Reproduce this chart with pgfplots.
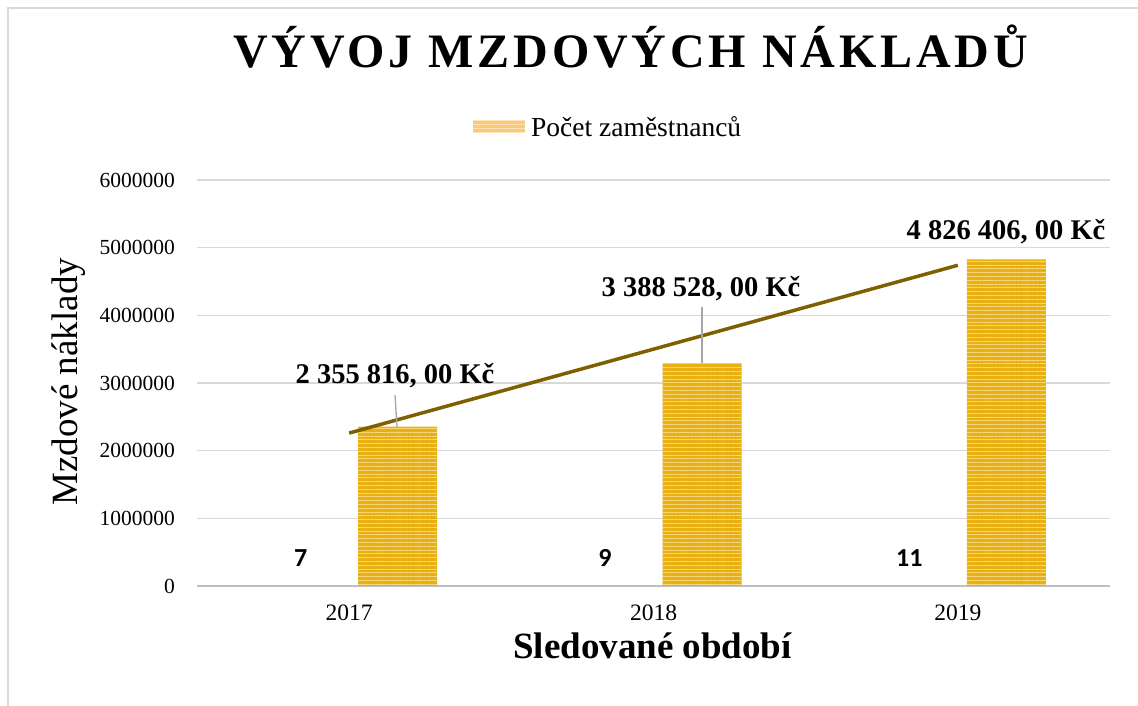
\documentclass[border=0pt]{standalone}
\usepackage{fontspec}
\setmainfont{Liberation Serif}
\newfontfamily\calibri{Carlito}
\usepackage{pgfplots}
\pgfplotsset{compat=1.18}
\usetikzlibrary{patterns.meta}

\definecolor{bargold}{HTML}{E9B014}
\definecolor{barlight}{HTML}{F7D67C}
\definecolor{trend}{HTML}{7F6000}
\definecolor{gridgray}{HTML}{D9D9D9}
\definecolor{axisgray}{HTML}{BFBFBF}
\definecolor{leader}{HTML}{A6A6A6}
\definecolor{legbase}{HTML}{FAC97A}
\definecolor{leglight}{HTML}{FDE6BE}

\begin{document}
\begin{tikzpicture}
\useasboundingbox (0,0) rectangle (1138pt,706pt);
% light frame round the chart area
\draw[gridgray, line width=1.5pt] (8pt,0pt) -- (8pt,698pt) -- (1138pt,698pt);

\begin{axis}[
  at={(197pt,120pt)}, anchor=south west,
  scale only axis, width=913pt, height=406pt,
  xmin=-0.5, xmax=2.5, ymin=0, ymax=6000000,
  xtick={0,1,2}, xticklabels={2017,2018,2019},
  ytick={0,1000000,2000000,3000000,4000000,5000000,6000000},
  scaled y ticks=false,
  /pgf/number format/fixed, /pgf/number format/1000 sep={},
  /pgf/number format/assume math mode=true,
  xticklabel style={font=\fontsize{23.5}{28}\selectfont, anchor=north, inner sep=0pt, yshift=-19pt},
  yticklabel style={font=\fontsize{21.5}{26}\selectfont, anchor=east, inner sep=0pt, xshift=-22pt},
  major tick length=0pt,
  axis x line*=bottom, axis y line*=left,
  x axis line style={axisgray, line width=2.5pt, -},
  y axis line style={draw=none},
  ymajorgrids, grid style={gridgray, line width=1.3pt},
  clip=false,
]
% Mzdove naklady (bars)
\addplot[ybar, bar width=79pt, bar shift=0pt, draw=none, fill=bargold,
  postaction={pattern={Lines[angle=0,distance=3.8pt,line width=1pt]}, pattern color=barlight}]
  coordinates {(0.1594,2355816) (1.1594,3290000) (2.1594,4826406)};
% Pocet zamestnancu (too small to see, only labels)
\addplot[ybar, bar width=79pt, bar shift=0pt, draw=none, fill=none,
  nodes near coords,
  every node near coord/.append style={font=\calibri\bfseries\fontsize{26}{30}\selectfont, anchor=base, yshift=19pt}]
  coordinates {(-0.1594,7) (0.8406,9) (1.8406,11)};
% linear trend
\addplot[trend, line width=3.5pt] coordinates {(0,2260000) (2,4740000)};
\end{axis}

% title
\node[anchor=base, font=\fontsize{48}{56}\selectfont\bfseries\addfontfeature{LetterSpace=8}]
  at (630.5pt,638pt) {VÝVOJ MZDOVÝCH NÁKLADŮ};

% legend
\fill[legbase, postaction={pattern={Lines[angle=0,distance=3.8pt,line width=1pt]}, pattern color=leglight}]
  (473pt,573pt) rectangle (525pt,586pt);
\node[anchor=base west, inner sep=0pt, font=\fontsize{27.5}{32}\selectfont] at (531pt,569.3pt) {Počet zaměstnanců};

% axis titles
\node[rotate=90, anchor=center, font=\fontsize{37}{44}\selectfont] at (68.5pt,324.3pt) {Mzdové náklady};
\node[anchor=base, font=\fontsize{37}{44}\selectfont\bfseries] at (652.5pt,47pt) {Sledované období};

% data labels
\begin{scope}[every node/.style={anchor=base, inner sep=0pt, font=\fontsize{28.5}{34}\selectfont\bfseries}]
\node at (395pt,322pt) {2 355 816, 00 Kč};
\node at (701pt,409.3pt) {3 388 528, 00 Kč};
\node at (1006pt,466pt) {4 826 406, 00 Kč};
\end{scope}
\draw[leader, line width=1.3pt] (395pt,311pt) -- (397pt,279pt);
\draw[leader, line width=1.3pt] (702pt,399pt) -- (702pt,343pt);
\end{tikzpicture}
\end{document}
